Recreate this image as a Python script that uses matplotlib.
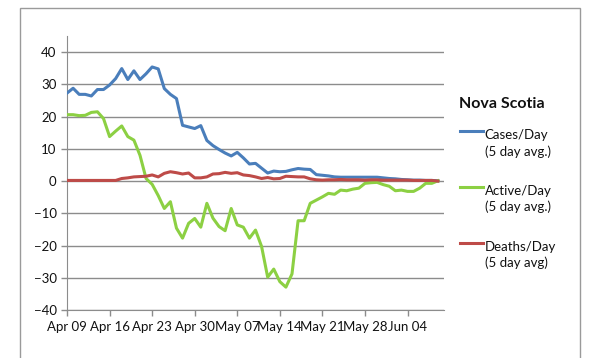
import pandas as pd
import matplotlib
matplotlib.use("Agg")
import matplotlib.pyplot as plt
import matplotlib.dates as mdates
from matplotlib.lines import Line2D
from matplotlib.patches import Rectangle

# 5 day averages, Nova Scotia, one value per day from Apr 09
start_date = "2020-04-09"
cases = [27.3, 28.8, 26.9, 26.9, 26.4, 28.4, 28.4, 29.8, 31.8, 34.9,
         31.5, 34.2, 31.5, 33.3, 35.4, 34.8, 28.7, 26.9, 25.6, 17.3,
         16.8, 16.3, 17.2, 12.6, 11.0, 9.8, 8.7, 7.8, 8.9, 7.2,
         5.3, 5.5, 4.0, 2.5, 3.1, 2.9, 3.0, 3.5, 3.9, 3.7,
         3.6, 2.0, 1.8, 1.6, 1.3, 1.2, 1.2, 1.2, 1.2, 1.2,
         1.2, 1.2, 1.0, 0.8, 0.7, 0.5, 0.4, 0.3, 0.3, 0.2,
         0.2, 0.1]
active = [20.6, 20.6, 20.3, 20.4, 21.3, 21.5, 19.4, 13.8, 15.5, 17.1,
          13.8, 12.7, 8.0, 0.8, -1.0, -4.5, -8.5, -6.4, -14.6, -17.7,
          -13.1, -11.6, -14.3, -6.9, -11.5, -14.1, -15.4, -8.5, -13.6, -14.3,
          -17.7, -15.2, -20.3, -29.8, -27.3, -31.2, -32.9, -28.8, -12.3, -12.3,
          -6.9, -5.9, -4.9, -3.8, -4.1, -2.8, -3.0, -2.5, -2.2, -0.7,
          -0.5, -0.4, -1.1, -1.6, -3.0, -2.8, -3.2, -3.2, -2.2, -0.7,
          -0.7, 0.1]
deaths = [0.2, 0.2, 0.2, 0.2, 0.2, 0.2, 0.2, 0.2, 0.2, 0.8,
          1.0, 1.3, 1.4, 1.5, 1.9, 1.3, 2.4, 2.9, 2.6, 2.2,
          2.5, 1.0, 1.0, 1.3, 2.2, 2.3, 2.7, 2.4, 2.6, 1.9,
          1.7, 1.3, 0.8, 1.1, 0.7, 0.8, 1.5, 1.4, 1.3, 1.3,
          0.7, 0.4, 0.3, 0.4, 0.4, 0.5, 0.4, 0.4, 0.4, 0.3,
          0.4, 0.4, 0.3, 0.3, 0.3, 0.3, 0.3, 0.2, 0.2, 0.2,
          0.2, 0.0]
series_names = ["Cases/Day\n(5 day avg.)", "Active/Day\n(5 day avg.)", "Deaths/Day\n(5 day avg)"]
series_colors = ["#4a7ebb", "#8cd043", "#be4b48"]
title = "Nova Scotia"

plt.rcParams['font.family'] = ['Lato', 'DejaVu Sans']
dates = pd.date_range(start_date, periods=len(cases), freq="D")

fig = plt.figure(figsize=(6.0, 3.58), dpi=100)
ax = fig.add_axes([0.1117, 0.134, 0.6283, 0.7654])

for vals, col in zip([cases, active, deaths], series_colors):
    ax.plot(dates, vals, color=col, lw=2.2, solid_joinstyle="round", zorder=3)

ax.set_ylim(-40, 45)
ax.set_yticks(range(-40, 41, 10))
ax.set_xlim(dates[0], dates[-1] + pd.Timedelta(days=1))
ax.set_xticks(pd.date_range(start_date, dates[-1], freq="7D"))
ax.xaxis.set_major_formatter(mdates.DateFormatter("%b %d"))

grid_col = "#8c8c8c"
ax.yaxis.grid(True, color=grid_col, lw=1.0)
ax.set_axisbelow(True)
for s in ["top", "right"]:
    ax.spines[s].set_visible(False)
ax.spines["left"].set_color(grid_col)
ax.spines["bottom"].set_color(grid_col)
ax.tick_params(axis="both", colors=grid_col, labelcolor="#111111",
               labelsize=9.5, length=4, width=1.0)
ax.tick_params(axis="x", pad=4)

# legend drawn by hand: short line sample beside the first text line
fig.text(0.765, 0.71, title, fontsize=11.5, fontweight="bold",
         color="#111111", va="center", ha="left")
leg_y = [0.633, 0.478, 0.322]
for name, col, y in zip(series_names, series_colors, leg_y):
    fig.add_artist(Line2D([0.767, 0.805], [y, y], color=col, lw=2.2,
                          transform=fig.transFigure))
    fig.text(0.808, y + 0.006, name, fontsize=9.5, color="#111111",
             va="top", ha="left", linespacing=1.4,
             transform=fig.transFigure)

# chart border (bottom edge lies below the picture)
fig.add_artist(Rectangle((20 / 600, -0.05), 560 / 600, 1.05 - 8 / 358,
                         transform=fig.transFigure, fill=False,
                         edgecolor="#9a9a9a", lw=1.0))

fig.savefig("out.png", dpi=100, facecolor="white")
